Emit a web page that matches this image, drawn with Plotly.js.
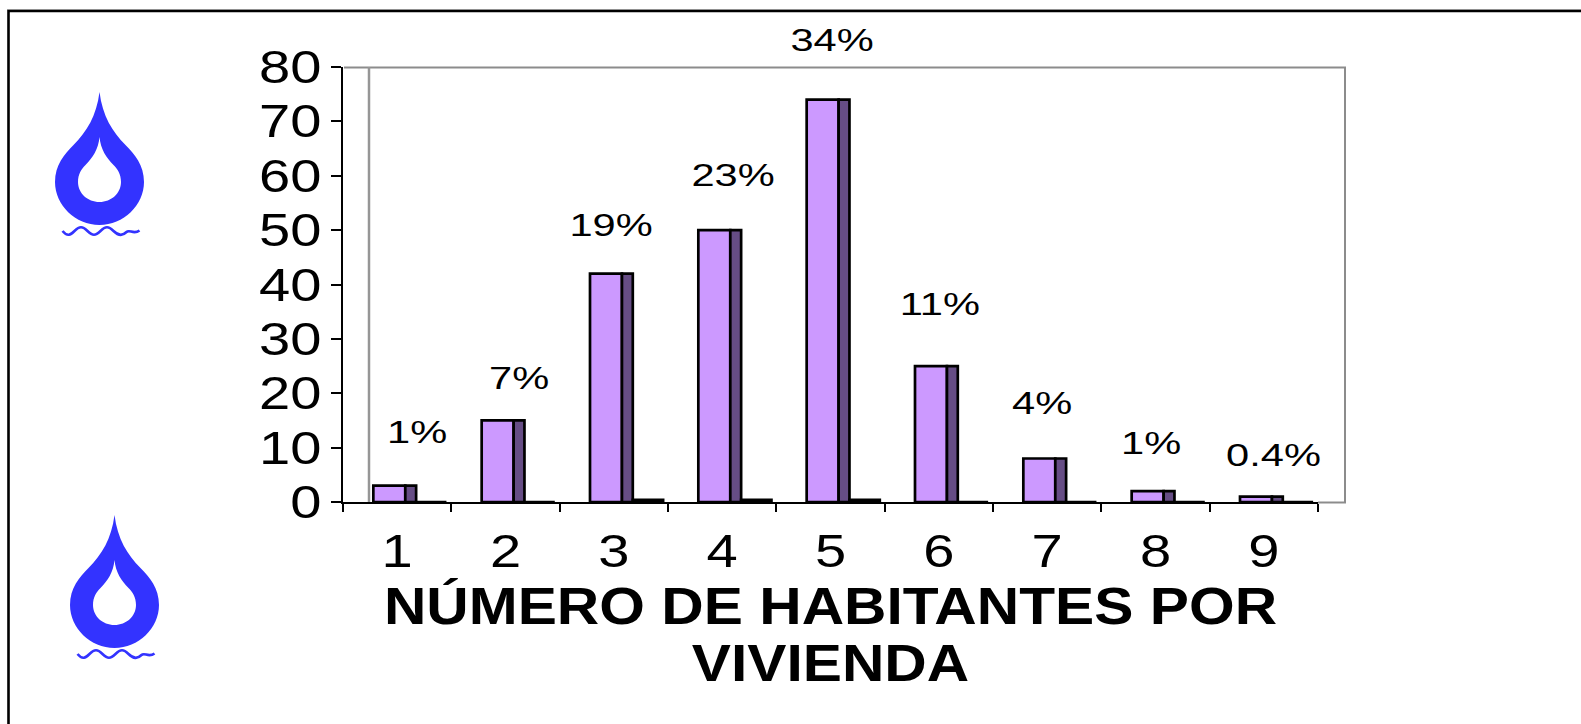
<!DOCTYPE html>
<html><head><meta charset="utf-8">
<script src="https://cdn.plot.ly/plotly-3.0.0.min.js"></script>
<style>html,body{margin:0;padding:0;background:#fff;overflow:hidden}</style>
</head><body><div id="chart" style="width:1581px;height:724px"></div>
<script>
const categories = ['1','2','3','4','5','6','7','8','9'];
const viviendas = [3,15,42,50,74,25,8,2,1];
const terceraSerie = [0,0,0.4,0.4,0.4,0,0,0,0];
const porcentajes = ['1%','7%','19%','23%','34%','11%','4%','1%','0.4%'];
const xTitle = 'NÚMERO DE HABITANTES POR<br>VIVIENDA';

const W=1581,H=724, L=343,R=1318,T=67,B=502;
const labelDx=[20,13,-3,11,1,1,-5,-5,10];
const labelDy=[54,42,49,55,60,62,56,48,42];

function rep(v){return categories.map(()=>v);}
const common={type:'bar',x:categories,marker:{line:{color:'#000',width:2.7}},showlegend:false,hoverinfo:'skip'};
const traces=[
 {...common,name:'Serie 1',y:viviendas,offset:rep(-0.22),width:rep(0.295),marker:{...common.marker,color:'#cc99ff'}},
 {...common,name:'Serie 2',y:viviendas,offset:rep(0.075),width:rep(0.1),marker:{...common.marker,color:'#664d85'}},
 {...common,name:'Serie 3',y:terceraSerie,offset:rep(0.175),width:rep(0.28),marker:{...common.marker,color:'#000'}}
];
function drop(ax,ay){
 const p=(x,y)=>`${x} ${-y}`;
 const outer=`M${p(0,0)} C${p(3,24)} ${p(13,40)} ${p(26,53)} C${p(35,62)} ${p(44.5,73)} ${p(44.5,90)} C${p(44.5,113)} ${p(24,133)} ${p(0,133)} C${p(-24,133)} ${p(-44.5,113)} ${p(-44.5,90)} C${p(-44.5,73)} ${p(-35,62)} ${p(-26,53)} C${p(-13,40)} ${p(-3,24)} ${p(0,0)} Z`;
 const inner=`M${p(0,45)} C${p(1,57)} ${p(7,66)} ${p(14,73)} C${p(18,77)} ${p(21.5,82)} ${p(21.5,90)} C${p(21.5,101)} ${p(12,110)} ${p(0,110)} C${p(-12,110)} ${p(-21.5,101)} ${p(-21.5,90)} C${p(-21.5,82)} ${p(-18,77)} ${p(-14,73)} C${p(-7,66)} ${p(-1,57)} ${p(0,45)} Z`;
 const wave=`M${p(-37,139)} C${p(-32,145)} ${p(-29,143)} ${p(-25,139)} C${p(-20,134)} ${p(-17,134)} ${p(-12,139)} C${p(-7,144)} ${p(-4,144)} ${p(1,139)} C${p(6,134)} ${p(9,134)} ${p(14,139)} C${p(19,144)} ${p(23,144)} ${p(27,140)} C${p(30,137)} ${p(34,143)} ${p(40,138.5)}`;
 const base={xref:'paper',yref:'paper',xsizemode:'pixel',ysizemode:'pixel',xanchor:(ax-L)/(R-L),yanchor:(B-ay)/(B-T),layer:'above'};
 return [
  {...base,type:'path',path:outer+' '+inner,fillcolor:'#3333ff',fillrule:'evenodd',line:{width:0}},
  {...base,type:'path',path:wave,line:{color:'#3333ff',width:2.6}}
 ];
}
const fx=v=>(v-L)/(R-L), fy=v=>(B-v)/(B-T);
function seg(x0,y0,x1,y1,color,w){return {type:'line',xref:'paper',yref:'paper',x0:fx(x0),y0:fy(y0),x1:fx(x1),y1:fy(y1),line:{color,width:w},layer:'below'};}
const shapes=[
 seg(344,67.5,1346,67.5,'#8c8c8c',2),
 seg(369,67,369,502,'#969696',2.5),
 seg(1345,67,1345,503,'#8c8c8c',2),
 seg(1318,502.5,1346,502.5,'#8c8c8c',2),
 seg(7,9.5,1581,9.5,'#c0c0c0',1),
 {type:'rect',xref:'paper',yref:'paper',x0:fx(8.5),y0:fy(11),x1:fx(1900),y1:fy(900),line:{color:'#000',width:2.6},layer:'below'},
 ...drop(99.5,92),...drop(114.5,515)
];
// Category axes place annotations by category index.
const annotations=categories.map((c,i)=>({x:i,y:viviendas[i],xref:'x',yref:'y',text:porcentajes[i],showarrow:false,xshift:labelDx[i],yshift:labelDy[i],yanchor:'middle',xanchor:'center',font:{family:'Liberation Sans',size:32,color:'#000'}}));
const layout={width:W,height:H,margin:{l:L,r:W-R,t:T,b:H-B},paper_bgcolor:'#fff',plot_bgcolor:'rgba(0,0,0,0)',bargap:0,barmode:'overlay',shapes,annotations,
 xaxis:{type:'category',categoryorder:'array',categoryarray:categories,range:[-0.5,8.5],tickson:'boundaries',ticks:'outside',ticklen:8,tickwidth:2,tickcolor:'#000',showline:true,linecolor:'#000',linewidth:2.4,showgrid:false,zeroline:false,ticklabelstandoff:7,tickfont:{family:'Liberation Sans',size:46,color:'#000'},
  title:{text:'<b>'+xTitle.replace('<br>','</b><br><b>')+'</b>',font:{family:'Liberation Sans',size:52,color:'#000'},standoff:9}},
 yaxis:{range:[0,80],dtick:10,ticks:'outside',ticklen:10,tickwidth:2,tickcolor:'#000',showline:true,linecolor:'#000',linewidth:2.4,showgrid:false,zeroline:false,tickfont:{family:'Liberation Sans',size:46,color:'#000'}}
};
// The reference is a horizontally stretched raster, so widen the real text in place.
function widen(el,sx,origin){
 const b=el.getBBox();
 const ox=origin==='right'?b.x+b.width:b.x+b.width/2;
 const prev=el.getAttribute('transform')||'';
 el.setAttribute('transform',`${prev} translate(${ox},0) scale(${sx},1) translate(${-ox},0)`);
}
Plotly.newPlot('chart',traces,layout,{displayModeBar:false,staticPlot:true}).then(gd=>{
 gd.querySelectorAll('.xtick text').forEach(t=>widen(t,1.22));
 gd.querySelectorAll('.ytick text').forEach(t=>widen(t,1.22,'right'));
 gd.querySelectorAll('.annotation-text').forEach(t=>widen(t,1.3));
 const title=gd.querySelector('.xtitle');
 if(title){
  title.querySelectorAll('tspan.line').forEach((l,i)=>{if(i>0)l.setAttribute('dy','1.1em');});
  widen(title,1.13);
 }
});
</script></body></html>
